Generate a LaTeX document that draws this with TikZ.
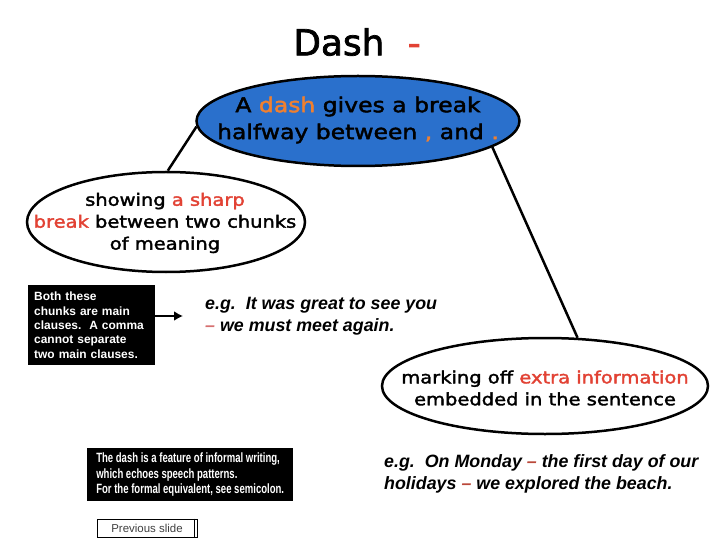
\documentclass[tikz,border=0pt]{standalone}
\usepackage{fontspec}
\usepackage{tikz}
\usetikzlibrary{arrows.meta, shapes.geometric}
\newfontfamily\titlefont[FakeBold=2]{DejaVu Sans}
\newfontfamily\comicfont[FakeStretch=1.15, FakeBold=2]{DejaVu Sans}
\newfontfamily\arialfont{Liberation Sans}
\newfontfamily\narrowfont[FakeStretch=0.71]{Liberation Sans}
\definecolor{bubbleblue}{RGB}{42,112,204}
\definecolor{dashorange}{RGB}{240,128,48}
\definecolor{sharpred}{RGB}{226,66,52}
\definecolor{egred}{RGB}{186,72,58}
\definecolor{eglight}{RGB}{214,112,112}

\begin{document}
\begin{tikzpicture}[x=1bp, y=-1bp,
        bubble/.style = {draw, ellipse, line width=2.5bp, inner sep=0pt},
        bubbletext/.style = {align=center, font=\comicfont\fontsize{17}{22}\selectfont},
        note/.style = {fill=black, text=white, align=left, anchor=north west},
        example/.style = {align=left, anchor=west, inner sep=0pt, font=\arialfont\bfseries\itshape\fontsize{17.9}{22}\selectfont}]
            \useasboundingbox (0,0) rectangle (720,540);

            \node (title) at (357,42) {\titlefont\fontsize{36}{40}\selectfont Dash\hspace{0.65em}\textcolor{sharpred}{-}};

            \node[bubble, fill=bubbleblue, minimum width=323bp, minimum height=90bp] (blue) at (358,121) {};
            \node[bubbletext, font=\comicfont\fontsize{20.5}{27}\selectfont] (bluetext) at (358,120) {A \textcolor{dashorange}{dash} gives a break\\halfway between \textcolor{dashorange}{,} and \textcolor{dashorange}{.}};

            \node[bubble, fill=white, minimum width=278bp, minimum height=100bp] (sharp) at (166,222) {};
            \node[bubbletext] (sharptext) at (165,223) {showing \textcolor{sharpred}{a sharp}\\\textcolor{sharpred}{break} between two chunks\\of meaning};

            \node[bubble, fill=white, minimum width=326bp, minimum height=96bp] (extra) at (545,386) {};
            \node[bubbletext] (extratext) at (545,388) {marking off \textcolor{sharpred}{extra information}\\embedded in the sentence};

            \path[line width=2.5bp] (blue.182) edge (sharp.88);
            \path[line width=2.5bp] (blue.349) edge (extra.56);

            \node[note, inner xsep=6bp, inner ysep=5bp, text width=115bp, minimum height=80bp, font=\arialfont\bfseries\fontsize{12}{14.5}\selectfont] (both) at (28,285) {Both these\\chunks are main\\clauses.\ \ A comma\\cannot separate\\two main clauses.};

            \node[example] (egone) at (205,316) {e.g.\ \ It was great to see you\\\textcolor{eglight}{–} we must meet again.};
            \path[-{Latex[length=9bp,width=10bp]}, line width=2.5bp] (both.east |- egone.west) edge ([xshift=-22bp]egone.west);

            \node[note, inner xsep=8bp, inner ysep=4bp, minimum width=206bp, minimum height=53bp, font=\narrowfont\bfseries\fontsize{13.5}{15.5}\selectfont] (informal) at (87,448) {The dash is a feature of informal writing,\\which echoes speech patterns.\\For the formal equivalent, see semicolon.};

            \node[example] (egtwo) at (384,474) {e.g.\ \ On Monday \textcolor{egred}{–} the first day of our\\holidays \textcolor{egred}{–} we explored the beach.};

            \node[draw, line width=0.7bp, minimum width=100bp, minimum height=18bp, inner sep=0pt, text=black!75, font=\arialfont\fontsize{11.5}{12}\selectfont] (prev) at (147,528) {Previous slide};
            \draw[line width=0.7bp] ([xshift=-3bp]prev.north east) -- ([xshift=-3bp]prev.south east);
        \end{tikzpicture}
\end{document}
